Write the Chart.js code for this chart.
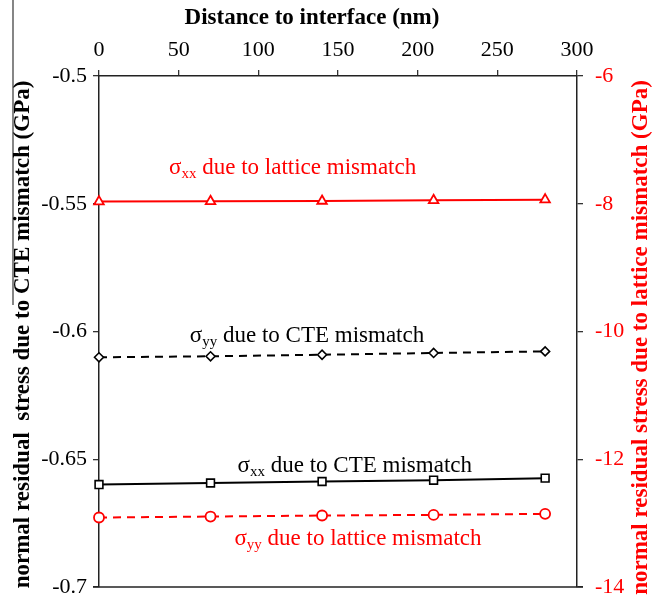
<!DOCTYPE html>
<html>
<head>
<meta charset="utf-8">
<script src="https://cdn.jsdelivr.net/npm/chart.js@4.4.1/dist/chart.umd.min.js"></script>
<style>
  html, body { margin: 0; padding: 0; background: #fff; }
  #wrap { width: 664px; height: 610px; }
</style>
</head>
<body>
<div id="wrap"><canvas id="stressChart"></canvas></div>
<script>
// distance from the interface (nm)
const distance = [0, 70, 140, 210, 280];

// stresses, GPa (CTE on the left axis, lattice on the right axis)
const sxxLattice = [-7.966, -7.962, -7.957, -7.946, -7.936];
const syyCte = [-0.6101, -0.6097, -0.6091, -0.6084, -0.6078];
const sxxCte = [-0.6599, -0.6593, -0.6587, -0.6582, -0.6574];
const syyLattice = [-12.912, -12.897, -12.881, -12.871, -12.855];

const xTicks = [0, 50, 100, 150, 200, 250, 300];
const cteTicks = [-0.7, -0.65, -0.6, -0.55, -0.5];
const latticeTicks = [-14, -12, -10, -8, -6];

// curve labels: anchor in data units of the axis they belong to
const curveLabels = [
  { sub: 'xx', text: 'due to lattice mismatch', x: 44, y: -7.533, axis: 'yR', color: '#ff0000' },
  { sub: 'yy', text: 'due to CTE mismatch', x: 57, y: -0.6043, axis: 'yL', color: '#000000' },
  { sub: 'xx', text: 'due to CTE mismatch', x: 87, y: -0.6551, axis: 'yL', color: '#000000' },
  { sub: 'yy', text: 'due to lattice mismatch', x: 85, y: -13.341, axis: 'yR', color: '#ff0000' }
];

const SERIF = '"Liberation Serif", "Times New Roman", serif';
const RED = '#ff0000';

const pairs = ys => distance.map((d, i) => ({ x: d, y: ys[i] }));
const setTicks = list => scale => { scale.ticks = list.map(v => ({ value: v })); };
const fmt = v => String(+Number(v).toFixed(2));

const textPlugin = {
  id: 'stressText',
  afterDraw(chart) {
    const ctx = chart.ctx;
    const area = chart.chartArea;
    const x = chart.scales.x;
    ctx.save();

    // closing bottom edge of the frame
    ctx.strokeStyle = '#222';
    ctx.lineWidth = 1.5;
    ctx.beginPath();
    ctx.moveTo(area.left - 6, area.bottom);
    ctx.lineTo(area.right + 6, area.bottom);
    ctx.stroke();

    // rule next to the left title
    ctx.lineWidth = 1.3;
    ctx.strokeStyle = '#444';
    ctx.beginPath();
    ctx.moveTo(13, 0);
    ctx.lineTo(13, 305);
    ctx.stroke();

    // axis titles
    ctx.fillStyle = '#000';
    ctx.textAlign = 'center';
    ctx.textBaseline = 'middle';
    ctx.font = 'bold 23px ' + SERIF;
    ctx.fillText('Distance to interface (nm)', 312, 18);

    const midY = (area.top + area.bottom) / 2;
    ctx.save();
    ctx.translate(23, midY + 3);
    ctx.rotate(-Math.PI / 2);
    ctx.fillText('normal residual  stress due to CTE mismatch (GPa)', 0, 0);
    ctx.restore();

    ctx.save();
    ctx.fillStyle = RED;
    ctx.translate(641, midY + 6);
    ctx.rotate(-Math.PI / 2);
    ctx.fillText('normal residual stress due to lattice mismatch (GPa)', 0, 0);
    ctx.restore();

    // curve labels with subscripts
    ctx.textAlign = 'left';
    ctx.textBaseline = 'alphabetic';
    curveLabels.forEach(l => {
      const px = x.getPixelForValue(l.x);
      const py = chart.scales[l.axis].getPixelForValue(l.y);
      ctx.fillStyle = l.color;
      ctx.font = '23px ' + SERIF;
      ctx.fillText('\u03c3', px, py);
      let w = ctx.measureText('\u03c3').width;
      ctx.font = '15px ' + SERIF;
      ctx.fillText(l.sub, px + w, py + 4);
      w += ctx.measureText(l.sub).width;
      ctx.font = '23px ' + SERIF;
      ctx.fillText(' ' + l.text, px + w, py);
    });
    ctx.restore();
  }
};

const axisGrid = { drawOnChartArea: false, drawTicks: true, tickLength: 6, color: '#333', lineWidth: 1.3 };
const axisBorder = { display: true, color: '#222', width: 1.5 };
const tickFont = { family: SERIF, size: 22, lineHeight: 1 };

new Chart(document.getElementById('stressChart'), {
  type: 'line',
  data: {
    datasets: [
      {
        label: 'sxx lattice',
        data: pairs(sxxLattice),
        yAxisID: 'yR',
        borderColor: RED,
        borderWidth: 2,
        pointStyle: 'triangle',
        pointRadius: 5.5,
        pointBorderWidth: 1.8,
        pointBorderColor: RED,
        pointBackgroundColor: '#fff',
        clip: false
      },
      {
        label: 'syy CTE',
        data: pairs(syyCte),
        yAxisID: 'yL',
        borderColor: '#000',
        borderWidth: 2,
        borderDash: [8, 6],
        pointStyle: 'rectRot',
        pointRadius: 4.5,
        pointBorderWidth: 1.6,
        pointBorderColor: '#000',
        pointBackgroundColor: '#fff',
        clip: false
      },
      {
        label: 'sxx CTE',
        data: pairs(sxxCte),
        yAxisID: 'yL',
        borderColor: '#000',
        borderWidth: 2,
        pointStyle: 'rect',
        pointRadius: 5.5,
        pointBorderWidth: 1.6,
        pointBorderColor: '#000',
        pointBackgroundColor: '#fff',
        clip: false
      },
      {
        label: 'syy lattice',
        data: pairs(syyLattice),
        yAxisID: 'yR',
        borderColor: RED,
        borderWidth: 2,
        borderDash: [8, 6],
        pointStyle: 'circle',
        pointRadius: 5,
        pointBorderWidth: 1.8,
        pointBorderColor: RED,
        pointBackgroundColor: '#fff',
        clip: false
      }
    ]
  },
  options: {
    responsive: true,
    maintainAspectRatio: false,
    animation: false,
    layout: { padding: { left: 0, right: 0, top: 0, bottom: 12 } },
    plugins: {
      legend: { display: false },
      tooltip: { enabled: false }
    },
    scales: {
      x: {
        type: 'linear',
        position: 'top',
        min: 0,
        max: 300,
        afterBuildTicks: setTicks(xTicks),
        afterFit: s => { s.height = 76; },
        grid: axisGrid,
        border: axisBorder,
        ticks: { font: tickFont, color: '#000', padding: 9, maxRotation: 0 }
      },
      yL: {
        type: 'linear',
        position: 'left',
        min: -0.7,
        max: -0.5,
        afterBuildTicks: setTicks(cteTicks),
        afterFit: s => { s.width = 99; },
        grid: axisGrid,
        border: axisBorder,
        ticks: { font: tickFont, color: '#000', padding: 6, callback: fmt }
      },
      yR: {
        type: 'linear',
        position: 'right',
        min: -14,
        max: -6,
        afterBuildTicks: setTicks(latticeTicks),
        afterFit: s => { s.width = 87; },
        grid: axisGrid,
        border: axisBorder,
        ticks: { font: tickFont, color: RED, padding: 12, callback: fmt }
      }
    }
  },
  plugins: [textPlugin]
});
</script>
</body>
</html>
